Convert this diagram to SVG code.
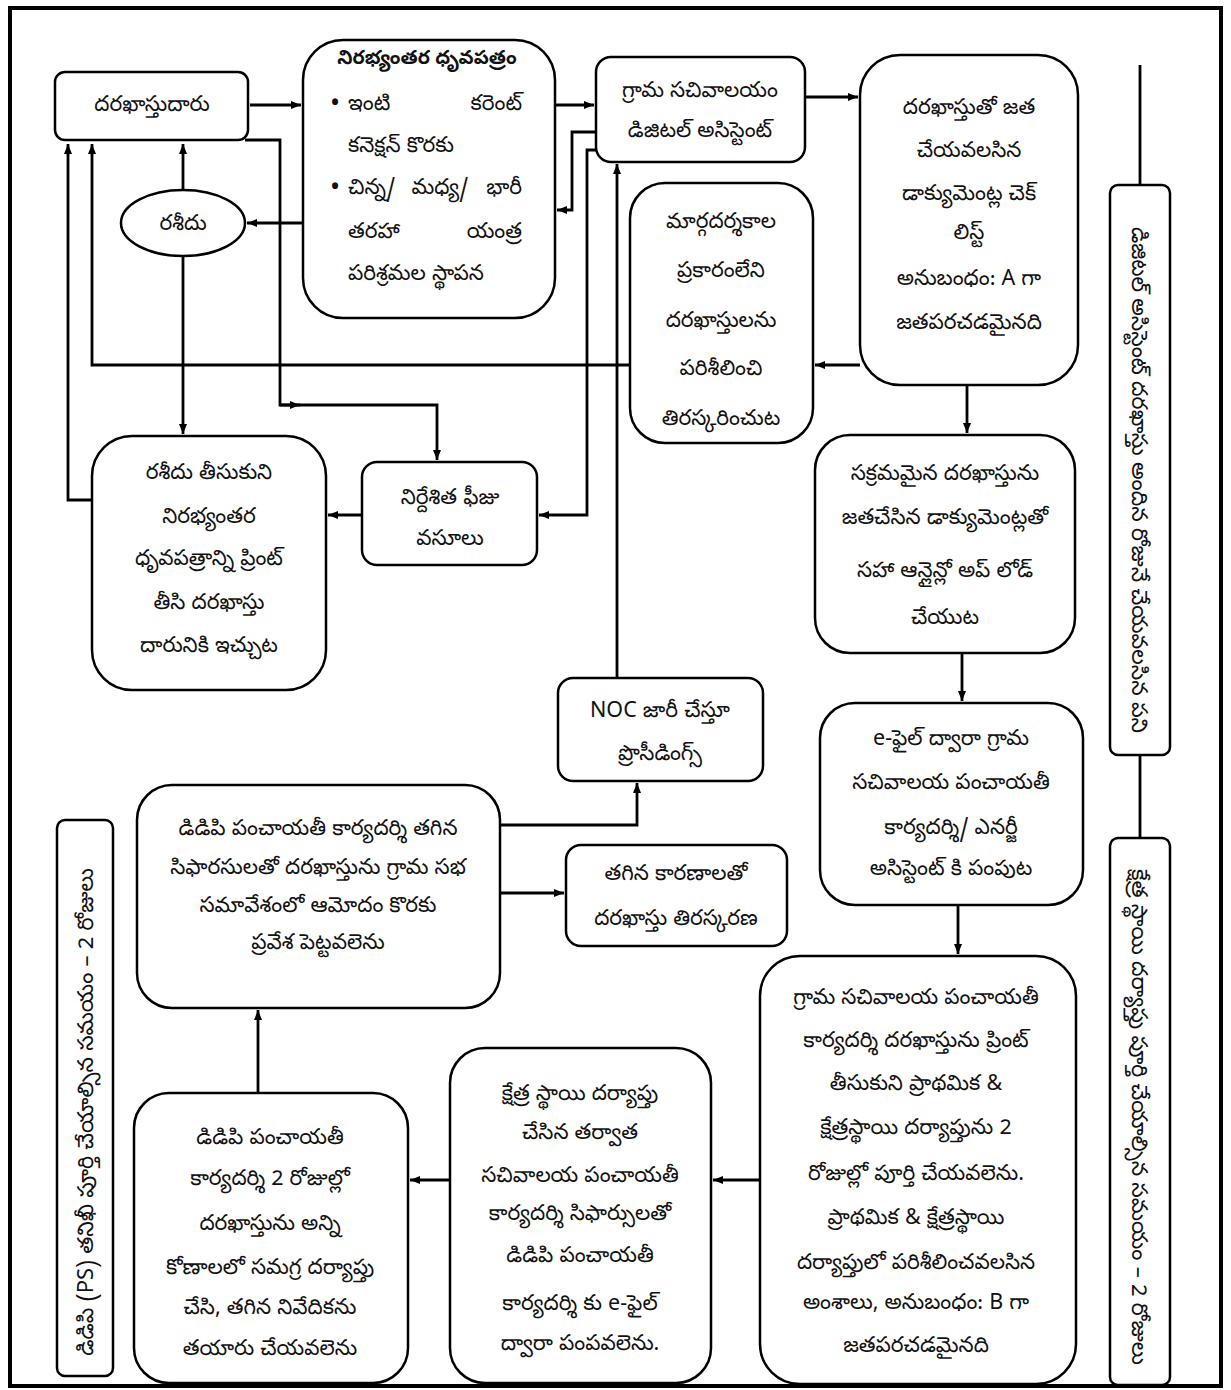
<svg xmlns="http://www.w3.org/2000/svg" width="1231" height="1390" viewBox="0 0 1231 1390">
<defs>
<marker id="ah" viewBox="0 0 10 10" refX="10" refY="5" markerWidth="10" markerHeight="10" markerUnits="userSpaceOnUse" orient="auto"><path d="M0,1 L10,5 L0,9 z" fill="#000"/></marker>
<style>
.box{fill:#fff;stroke:#000;stroke-width:2.5}
.c{fill:none;stroke:#000;stroke-width:2.8}
.a{marker-end:url(#ah)}
text{font-family:"Noto Sans Telugu","Lohit Telugu","Gautami","Pothana2000","Noto Sans","DejaVu Sans",sans-serif;font-size:21.5px;fill:#111}
.m{text-anchor:middle}
.e{text-anchor:end}
.b{font-weight:bold}
.t{font-size:19.5px}
.v{font-size:22px}
</style>
</defs>
<rect x="0" y="0" width="1231" height="1390" fill="#fff"/>
<rect x="10" y="8" width="1211" height="1378" fill="none" stroke="#000" stroke-width="4"/>

<g id="connectors">
<path class="c a" d="M250,105 H301"/>
<path class="c a" d="M555,105 H594"/>
<path class="c a" d="M805,97 H858"/>
<path class="c a" d="M596,132 H572 V210 H557"/>
<path class="c a" d="M303,223 H247"/>
<path class="c a" d="M183,190 V144"/>
<path class="c a" d="M183,256 V434"/>
<path class="c a" d="M245,140 H280 V405 H437 V460"/>
<path class="c a" d="M280,405 H300"/>
<path class="c a" d="M630,365 H92 V144"/>
<path class="c a" d="M92,500 H68 V144"/>
<path class="c a" d="M596,150 H587 V515 H539"/>
<path class="c a" d="M362,515 H328"/>
<path class="c a" d="M617,678 V164"/>
<path class="c a" d="M860,365 H815"/>
<path class="c a" d="M967,385 V433"/>
<path class="c a" d="M962,653 V701"/>
<path class="c a" d="M958,905 V954"/>
<path class="c a" d="M760,1180 H713"/>
<path class="c a" d="M450,1180 H410"/>
<path class="c a" d="M258,1093 V1010"/>
<path class="c a" d="M500,825 H637 V783"/>
<path class="c a" d="M500,893 H564"/>
<path class="c" d="M1140,65 V185"/>
<path class="c" d="M1140,755 V838"/>
</g>

<g id="n-applicant">
<rect class="box" x="55" y="72" width="193" height="68" rx="10"/>
<text class="m" x="152" y="111">దరఖాస్తుదారు</text>
</g>

<g id="n-noc">
<rect class="box" x="303" y="40" width="252" height="278" rx="40"/>
<text class="m b t" x="427" y="64">నిరభ్యంతర ధృవపత్రం</text>
<text class="b" x="331" y="110">•</text>
<text x="348" y="110">ఇంటి</text>
<text class="e" x="522" y="110">కరెంట్</text>
<text x="348" y="152">కనెక్షన్ కొరకు</text>
<text class="b" x="331" y="194">•</text>
<text x="348" y="194">చిన్న/</text>
<text class="m" x="440" y="194">మధ్య/</text>
<text class="e" x="522" y="194">భారీ</text>
<text x="348" y="238">తరహా</text>
<text class="e" x="522" y="238">యంత్ర</text>
<text x="348" y="280">పరిశ్రమల స్థాపన</text>
</g>

<g id="n-da">
<rect class="box" x="596" y="57" width="209" height="105" rx="15"/>
<text class="m" x="700" y="97">గ్రామ సచివాలయం</text>
<text class="m" x="700" y="137">డిజిటల్ అసిస్టెంట్</text>
</g>

<g id="n-checklist">
<rect class="box" x="860" y="55" width="218" height="330" rx="40"/>
<text class="m" x="969" y="114">దరఖాస్తుతో జత</text>
<text class="m" x="969" y="157">చేయవలసిన</text>
<text class="m" x="969" y="200">డాక్యుమెంట్ల చెక్</text>
<text class="m" x="969" y="239">లిస్ట్</text>
<text class="m" x="969" y="285">అనుబంధం: A గా</text>
<text class="m" x="969" y="329">జతపరచడమైనది</text>
</g>

<g id="n-receipt">
<ellipse class="box" cx="183" cy="223" rx="62" ry="33"/>
<text class="m" x="183" y="230">రశీదు</text>
</g>

<g id="n-guidelines">
<rect class="box" x="630" y="183" width="183" height="260" rx="35"/>
<text class="m" x="721" y="228">మార్గదర్శకాల</text>
<text class="m" x="721" y="277">ప్రకారంలేని</text>
<text class="m" x="721" y="327">దరఖాస్తులను</text>
<text class="m" x="721" y="375">పరిశీలించి</text>
<text class="m" x="721" y="425">తిరస్కరించుట</text>
</g>

<g id="n-issue-cert">
<rect class="box" x="92" y="436" width="234" height="254" rx="40"/>
<text class="m" x="209" y="479">రశీదు తీసుకుని</text>
<text class="m" x="209" y="523">నిరభ్యంతర</text>
<text class="m" x="209" y="565">ధృవపత్రాన్ని ప్రింట్</text>
<text class="m" x="209" y="609">తీసి దరఖాస్తు</text>
<text class="m" x="209" y="652">దారునికి ఇచ్చుట</text>
</g>

<g id="n-fee">
<rect class="box" x="362" y="462" width="175" height="103" rx="15"/>
<text class="m" x="450" y="504">నిర్దేశిత ఫీజు</text>
<text class="m" x="450" y="545">వసూలు</text>
</g>

<g id="n-upload">
<rect class="box" x="815" y="435" width="260" height="218" rx="35"/>
<text class="m" x="945" y="480">సక్రమమైన దరఖాస్తును</text>
<text class="m" x="945" y="524">జతచేసిన డాక్యుమెంట్లతో</text>
<text class="m" x="945" y="577">సహా ఆన్లైన్లో అప్ లోడ్</text>
<text class="m" x="945" y="624">చేయుట</text>
</g>

<g id="n-efile">
<rect class="box" x="820" y="703" width="263" height="202" rx="35"/>
<text class="m" x="951" y="745">e-ఫైల్ ద్వారా గ్రామ</text>
<text class="m" x="951" y="789">సచివాలయ పంచాయతీ</text>
<text class="m" x="951" y="834">కార్యదర్శి/ ఎనర్జీ</text>
<text class="m" x="951" y="875">అసిస్టెంట్ కి పంపుట</text>
</g>

<g id="n-noc-issue">
<rect class="box" x="558" y="678" width="205" height="103" rx="15"/>
<text class="m" x="660" y="717">NOC జారీ చేస్తూ</text>
<text class="m" x="660" y="760">ప్రొసీడింగ్స్</text>
</g>

<g id="n-ddp-rec">
<rect class="box" x="137" y="785" width="363" height="223" rx="35"/>
<text class="m" x="318" y="835">డిడిపి పంచాయతీ కార్యదర్శి తగిన</text>
<text class="m" x="318" y="874">సిఫారసులతో దరఖాస్తును గ్రామ సభ</text>
<text class="m" x="318" y="912">సమావేశంలో ఆమోదం కొరకు</text>
<text class="m" x="318" y="949">ప్రవేశ పెట్టవలెను</text>
</g>

<g id="n-reject">
<rect class="box" x="566" y="845" width="221" height="101" rx="15"/>
<text class="m" x="676" y="880">తగిన కారణాలతో</text>
<text class="m" x="676" y="925">దరఖాస్తు తిరస్కరణ</text>
</g>

<g id="n-field">
<rect class="box" x="760" y="956" width="316" height="428" rx="40"/>
<text class="m" x="916" y="1004">గ్రామ సచివాలయ పంచాయతీ</text>
<text class="m" x="916" y="1047">కార్యదర్శి దరఖాస్తును ప్రింట్</text>
<text class="m" x="916" y="1090">తీసుకుని ప్రాథమిక &amp;</text>
<text class="m" x="916" y="1134">క్షేత్రస్థాయి దర్యాప్తును 2</text>
<text class="m" x="916" y="1180">రోజుల్లో పూర్తి చేయవలెను.</text>
<text class="m" x="916" y="1224">ప్రాథమిక &amp; క్షేత్రస్థాయి</text>
<text class="m" x="916" y="1269">దర్యాప్తులో పరిశీలించవలసిన</text>
<text class="m" x="916" y="1309">అంశాలు, అనుబంధం: B గా</text>
<text class="m" x="916" y="1352">జతపరచడమైనది</text>
</g>

<g id="n-after-field">
<rect class="box" x="450" y="1048" width="261" height="335" rx="35"/>
<text class="m" x="580" y="1100">క్షేత్ర స్థాయి దర్యాప్తు</text>
<text class="m" x="580" y="1139">చేసిన తర్వాత</text>
<text class="m" x="580" y="1182">సచివాలయ పంచాయతీ</text>
<text class="m" x="580" y="1220">కార్యదర్శి సిఫార్సులతో</text>
<text class="m" x="580" y="1262">డిడిపి పంచాయతీ</text>
<text class="m" x="580" y="1310">కార్యదర్శి కు e-ఫైల్</text>
<text class="m" x="580" y="1350">ద్వారా పంపవలెను.</text>
</g>

<g id="n-ddp-2days">
<rect class="box" x="134" y="1093" width="274" height="290" rx="35"/>
<text class="m" x="270" y="1144">డిడిపి పంచాయతీ</text>
<text class="m" x="270" y="1185">కార్యదర్శి 2 రోజుల్లో</text>
<text class="m" x="270" y="1230">దరఖాస్తును అన్ని</text>
<text class="m" x="270" y="1274">కోణాలలో సమగ్ర దర్యాప్తు</text>
<text class="m" x="270" y="1314">చేసి, తగిన నివేదికను</text>
<text class="m" x="270" y="1355">తయారు చేయవలెను</text>
</g>

<g id="n-left-time">
<rect class="box" x="57" y="820" width="56" height="556" rx="8"/>
<text class="m v" transform="translate(93,1112) rotate(-90)" x="0" y="0">డిడిపి (PS) తనిఖీ పూర్తి చేయాల్సిన సమయం – 2 రోజులు</text>
</g>

<g id="n-da-time">
<rect class="box" x="1110" y="185" width="60" height="570" rx="8"/>
<text class="m v" transform="translate(1132,480) rotate(90)" x="0" y="0">డిజిటల్ అసిస్టెంట్ దరఖాస్తు అందిన రోజునే చేయవలసిన పని</text>
</g>

<g id="n-field-time">
<rect class="box" x="1110" y="838" width="60" height="547" rx="8"/>
<text class="m v" transform="translate(1132,1117) rotate(90)" x="0" y="0">క్షేత్ర స్థాయి దర్యాప్తు పూర్తి చేయాల్సిన సమయం – 2 రోజులు</text>
</g>
</svg>
